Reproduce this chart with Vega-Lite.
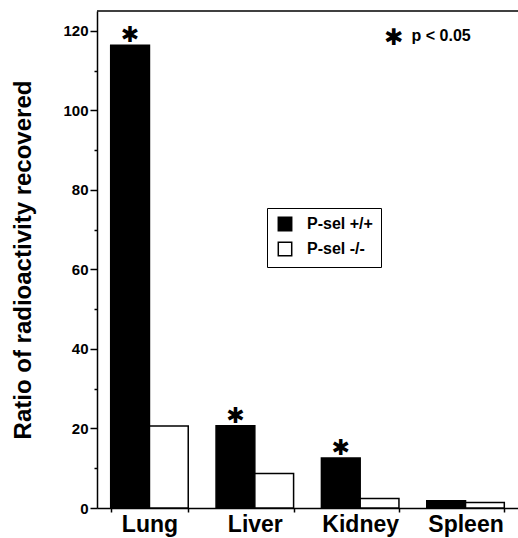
{
  "$schema": "https://vega.github.io/schema/vega-lite/v6.json",
  "width": 421,
  "height": 497,
  "autosize": {"type": "none"},
  "padding": {"left": 97, "top": 11, "right": 0, "bottom": 30},
  "background": "white",
  "config": {
    "view": {"stroke": null},
    "font": "Liberation Sans",
    "axis": {"domainColor": "black", "tickColor": "black", "labelColor": "black", "titleColor": "black", "grid": false}
  },
  "layer": [
    {
      "data": {"values": [
        {"organ": "Lung", "genotype": "P-sel +/+", "value": 116.4},
        {"organ": "Lung", "genotype": "P-sel -/-", "value": 20.6},
        {"organ": "Liver", "genotype": "P-sel +/+", "value": 20.7},
        {"organ": "Liver", "genotype": "P-sel -/-", "value": 8.7},
        {"organ": "Kidney", "genotype": "P-sel +/+", "value": 12.6},
        {"organ": "Kidney", "genotype": "P-sel -/-", "value": 2.4},
        {"organ": "Spleen", "genotype": "P-sel +/+", "value": 1.8},
        {"organ": "Spleen", "genotype": "P-sel -/-", "value": 1.4}
      ]},
      "mark": {"type": "bar", "stroke": "black", "strokeWidth": 1.5},
      "encoding": {
        "x": {
          "field": "organ", "type": "nominal",
          "sort": ["Lung", "Liver", "Kidney", "Spleen"],
          "scale": {"paddingInner": 0.264, "paddingOuter": 0.13},
          "axis": {
            "title": null, "labelAngle": 0, "labelFontSize": 23, "labelFontWeight": "bold",
            "tickBand": "extent", "tickSize": 4, "domainWidth": 1.5, "tickWidth": 1.5, "labelPadding": 1
          }
        },
        "xOffset": {"field": "genotype", "type": "nominal", "sort": ["P-sel +/+", "P-sel -/-"], "scale": {"paddingInner": 0, "paddingOuter": 0}},
        "y": {
          "field": "value", "type": "quantitative",
          "scale": {"domain": [0, 125], "nice": false},
          "axis": {
            "title": "Ratio of radioactivity recovered",
            "titleFontSize": 24, "titleFontWeight": "bold", "titlePadding": 27,
            "values": [0, 10, 20, 30, 40, 50, 60, 70, 80, 90, 100, 110, 120],
            "labelExpr": "datum.value % 20 === 0 ? datum.label : ''",
            "labelFontSize": 15, "labelFontWeight": "bold", "labelPadding": 2,
            "tickSize": {"condition": {"test": "datum.value % 20 === 0", "value": 7}, "value": 3},
            "domainWidth": 1.5, "tickWidth": 1.5
          }
        },
        "color": {
          "field": "genotype", "type": "nominal",
          "scale": {"domain": ["P-sel +/+", "P-sel -/-"], "range": ["black", "white"]},
          "legend": {
            "title": null, "orient": "none", "legendX": 170, "legendY": 197,
            "strokeColor": "black", "padding": 8, "symbolOffset": 2,
            "symbolType": "square", "symbolSize": 180, "symbolStrokeColor": "black", "symbolStrokeWidth": 1.5,
            "labelFontSize": 16, "labelFontWeight": "bold", "labelColor": "black", "labelOffset": 14,
            "rowPadding": 5,
            "labelExpr": "datum.label + '\u00a0\u00a0\u00a0'"
          }
        }
      }
    },
    {
      "data": {"values": [
        {"organ": "Lung", "genotype": "P-sel +/+", "value": 116.4},
        {"organ": "Liver", "genotype": "P-sel +/+", "value": 20.7},
        {"organ": "Kidney", "genotype": "P-sel +/+", "value": 12.6}
      ]},
      "mark": {"type": "text", "text": "✱", "font": "DejaVu Sans", "fontSize": 22, "baseline": "middle", "dy": -10, "color": "black"},
      "encoding": {
        "x": {"field": "organ", "type": "nominal", "sort": ["Lung", "Liver", "Kidney", "Spleen"]},
        "xOffset": {"field": "genotype", "type": "nominal", "sort": ["P-sel +/+", "P-sel -/-"]},
        "y": {"field": "value", "type": "quantitative"}
      }
    },
    {
      "data": {"values": [{"organ": "Spleen", "value": 118.2}]},
      "mark": {"type": "text", "text": "✱", "font": "DejaVu Sans", "fontSize": 23, "baseline": "middle", "dx": -72, "color": "black"},
      "encoding": {
        "x": {"field": "organ", "type": "nominal", "sort": ["Lung", "Liver", "Kidney", "Spleen"]},
        "y": {"field": "value", "type": "quantitative"}
      }
    },
    {
      "data": {"values": [{"organ": "Spleen", "value": 118.7, "label": "p < 0.05"}]},
      "mark": {"type": "text", "fontSize": 16, "fontWeight": "bold", "align": "left", "baseline": "middle", "dx": -54, "color": "black"},
      "encoding": {
        "x": {"field": "organ", "type": "nominal", "sort": ["Lung", "Liver", "Kidney", "Spleen"]},
        "y": {"field": "value", "type": "quantitative"},
        "text": {"field": "label"}
      }
    },
    {
      "data": {"values": [{}]},
      "mark": {"type": "rule", "color": "black", "strokeWidth": 1.5},
      "encoding": {"y": {"datum": 125}}
    }
  ]
}
